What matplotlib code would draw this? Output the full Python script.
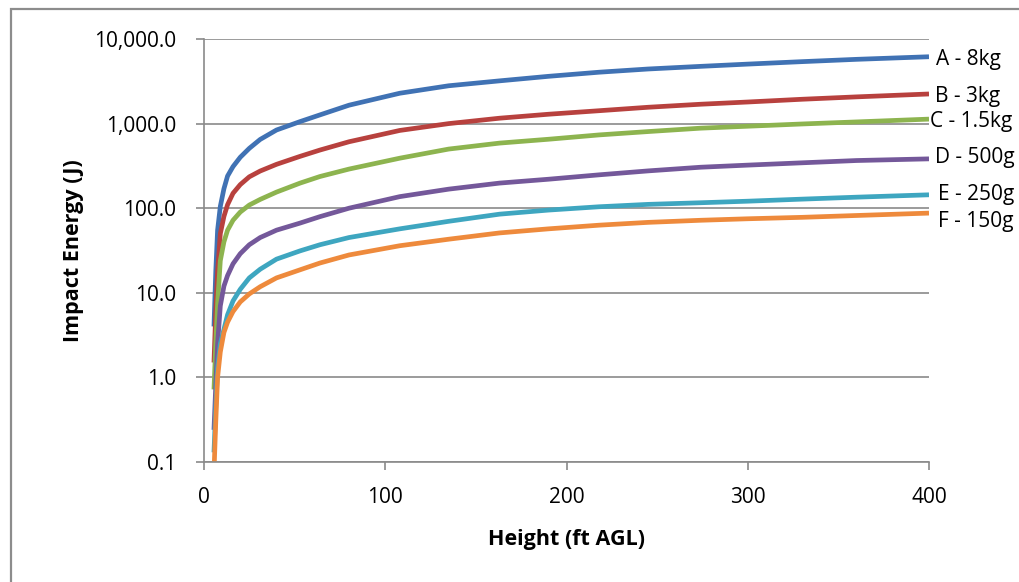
import matplotlib
matplotlib.use("Agg")
import matplotlib.pyplot as plt
from matplotlib.ticker import FixedLocator, FuncFormatter, NullLocator
from matplotlib.patches import Rectangle

plt.rcParams['font.family'] = ['Open Sans', 'DejaVu Sans']

height = [5.5, 6.5, 7.5, 9, 11, 13, 16, 20, 25, 31, 40, 53, 64, 80, 108,
          135, 163, 190, 218, 245, 274, 300, 330, 360, 400]

# impact energy (J) per object
energy_a = [4, 18, 55, 105, 170, 240, 310, 400, 510, 650, 840, 1056, 1268, 1650, 2285,
            2800, 3200, 3620, 4050, 4420, 4750, 5050, 5400, 5750, 6170]
energy_b = [1.5, 6, 18, 50, 80, 110, 150, 190, 235, 275, 330, 410, 487, 610, 830,
            1000, 1158, 1290, 1420, 1560, 1694, 1800, 1940, 2070, 2240]
energy_c = [0.72, 2.5, 7.5, 24, 40, 55, 72, 90, 109, 127, 155, 198, 237, 290, 390,
            500, 588, 653, 735, 805, 883, 931, 990, 1047, 1130]
energy_d = [0.24, 0.8, 2.5, 7, 12, 16, 22, 29, 37, 45, 55, 66.7, 79.5, 100, 137,
            168, 198, 220, 248, 276, 305, 323, 344, 366, 383]
energy_e = [0.13, 0.45, 1.3, 2.5, 3.7, 5.5, 8, 11, 15, 19, 25, 31.3, 37, 45, 57,
            70, 85, 95, 104, 111, 116, 121, 128, 135, 144]
energy_f = [0.075, 0.3, 1.0, 2.0, 3.4, 4.5, 6.0, 7.8, 9.7, 11.8, 15, 18.7, 22.5, 28, 36,
            43, 51, 57, 63, 68, 72, 75, 78, 82, 87.5]

labels = ["A - 8kg", "B - 3kg", "C - 1.5kg", "D - 500g", "E - 250g", "F - 150g"]
series = [energy_a, energy_b, energy_c, energy_d, energy_e, energy_f]
colors = ["#4072b4", "#b8413e", "#8db44f", "#74589a", "#3ea6c0", "#ee8a3c"]
# label nudges in pixels (dx, dy)
nudges = [(7, -3), (6, -3), (1, -2), (6, 1), (9, 0), (9, -8)]

yticks = [0.1, 1, 10, 100, 1000, 10000]
xticks = [0, 100, 200, 300, 400]

fig = plt.figure(figsize=(10.2, 5.82), dpi=100)
fig.patches.append(Rectangle((11 / 1020, -0.1), 1.2, 1 - 9 / 582 + 0.1,
                             transform=fig.transFigure, fill=False,
                             edgecolor="#8c8c8c", linewidth=1.6))
ax = fig.add_axes([204 / 1020, 1 - 462 / 582, 725 / 1020, 423 / 582])

for vals, name, col, (dx, dy) in zip(series, labels, colors, nudges):
    ax.plot(height, vals, color=col, linewidth=3.4, solid_capstyle="butt")
    ax.annotate(name, xy=(height[-1], vals[-1]), xytext=(dx, dy),
                textcoords="offset pixels", ha="left", va="center",
                fontsize=15, color="#000000", annotation_clip=False)

ax.set_yscale("log")
ax.set_ylim(0.1, 10000)
ax.set_xlim(0, 400)
ax.yaxis.set_major_locator(FixedLocator(yticks))
ax.yaxis.set_minor_locator(NullLocator())
ax.yaxis.set_major_formatter(FuncFormatter(lambda v, p: f"{v:,.1f}"))
ax.set_xticks(xticks)

ax.grid(axis="y", color="#8a8a8a", linewidth=1.2)
ax.set_axisbelow(True)
for s in ["top", "right"]:
    ax.spines[s].set_visible(False)
for s in ["left", "bottom"]:
    ax.spines[s].set_color("#8a8a8a")
    ax.spines[s].set_linewidth(1.2)
ax.tick_params(axis="both", colors="#8a8a8a", labelcolor="#000000",
               labelsize=15, length=6, width=1.2)
ax.tick_params(axis="y", pad=14)
ax.tick_params(axis="x", pad=12)

ax.set_xlabel("Height (ft AGL)", fontsize=15.5, fontweight="bold", labelpad=15)
ax.set_ylabel("Impact Energy (J)", fontsize=15.5, fontweight="bold", labelpad=7)

fig.savefig("out.png", dpi=100)
